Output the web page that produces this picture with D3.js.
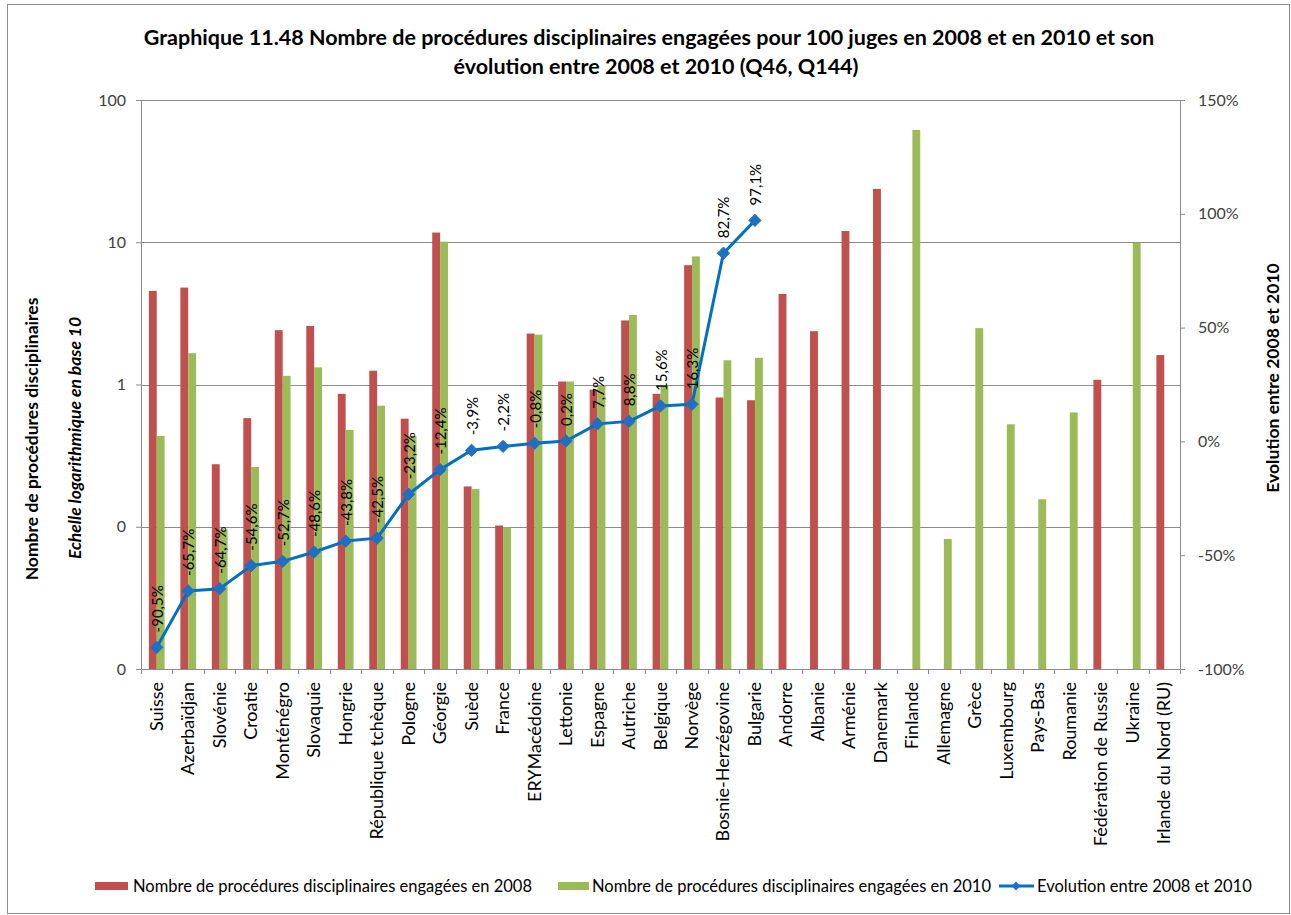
<!DOCTYPE html>
<html lang="fr">
<head>
<meta charset="UTF-8">
<title>Graphique 11.48</title>
<script src="https://d3js.org/d3.v7.min.js"></script>
<style>
    body { margin: 0; background: #fff; }
    text { font-family: Lato, "Open Sans", sans-serif; }
</style>
</head>
<body>
<svg width="1291" height="915"></svg>
<script>
// Categories (countries)
const countries = ["Suisse", "Azerbaïdjan", "Slovénie", "Croatie", "Monténégro", "Slovaquie", "Hongrie",
    "République tchèque", "Pologne", "Géorgie", "Suède", "France", "ERYMacédoine", "Lettonie", "Espagne",
    "Autriche", "Belgique", "Norvège", "Bosnie-Herzégovine", "Bulgarie", "Andorre", "Albanie", "Arménie",
    "Danemark", "Finlande", "Allemagne", "Grèce", "Luxembourg", "Pays-Bas", "Roumanie",
    "Fédération de Russie", "Ukraine", "Irlande du Nord (RU)"];

// Procedures per 100 judges, 2008 (null = no data)
const val2008 = [4.55, 4.8, 0.275, 0.58, 2.41, 2.58, 0.86, 1.25, 0.575, 11.7, 0.192, 0.102, 2.28, 1.05, 0.92,
    2.82, 0.86, 6.9, 0.81, 0.775, 4.33, 2.37, 12.0, 23.7, null, null, null, null, null, null, 1.08, null, 1.61];

// Procedures per 100 judges, 2010
const val2010 = [0.435, 1.66, 0.096, 0.263, 1.15, 1.32, 0.48, 0.71, 0.435, 10.1, 0.184, 0.099, 2.24, 1.05, 0.99,
    3.08, 0.99, 7.95, 1.48, 1.54, null, null, null, null, 61.6, 0.082, 2.49, 0.525, 0.156, 0.636, null, 9.9, null];

// Evolution 2008-2010 in %
const evolution = [-90.5, -65.7, -64.7, -54.6, -52.7, -48.6, -43.8, -42.5, -23.2, -12.4, -3.9, -2.2, -0.8, 0.2,
    7.7, 8.8, 15.6, 16.3, 82.7, 97.1, null, null, null, null, null, null, null, null, null, null, null, null, null];

const leftTicks = [0.01, 0.1, 1, 10, 100];
const rightTicks = [-100, -50, 0, 50, 100, 150];

const svg = d3.select("svg");
const margin = { top: 100, left: 141, right: 111, bottom: 246 };
const W = 1291, H = 915;
const plotW = W - margin.left - margin.right;
const plotH = H - margin.top - margin.bottom;

// chart frame
svg.append("rect").attr("x", 7.5).attr("y", 4.5).attr("width", 1282).attr("height", 909)
    .attr("fill", "none").attr("stroke", "#8c8c8c").attr("stroke-width", 1);

const g = svg.append("g").attr("transform", `translate(${margin.left},${margin.top})`);

const x = d3.scaleBand().domain(countries).range([0, plotW]);
const y = d3.scaleLog().domain([0.01, 100]).range([plotH, 0]);
const y2 = d3.scaleLinear().domain([-100, 150]).range([plotH, 0]);

// gridlines
g.append("g").selectAll("line").data(leftTicks).join("line")
    .attr("x1", 0).attr("x2", plotW)
    .attr("y1", d => Math.round(y(d)) + 0.5).attr("y2", d => Math.round(y(d)) + 0.5)
    .attr("stroke", "#8c8c8c");

// bars
const bw = x.bandwidth() * 0.25;
g.append("g").selectAll("rect").data(countries.map((c, i) => ({ c, v: val2008[i] })).filter(d => d.v != null))
    .join("rect")
    .attr("x", d => x(d.c) + x.bandwidth() / 2 - bw)
    .attr("y", d => y(d.v))
    .attr("width", bw)
    .attr("height", d => plotH - y(d.v))
    .attr("fill", "#C0504D");

g.append("g").selectAll("rect").data(countries.map((c, i) => ({ c, v: val2010[i] })).filter(d => d.v != null))
    .join("rect")
    .attr("x", d => x(d.c) + x.bandwidth() / 2)
    .attr("y", d => y(d.v))
    .attr("width", bw)
    .attr("height", d => plotH - y(d.v))
    .attr("fill", "#9BBB59");

// axes
const leftAxis = g.append("g").call(d3.axisLeft(y).tickValues(leftTicks).tickSize(5).tickPadding(10)
    .tickFormat(d => d >= 1 ? d3.format("d")(d) : "0"));
const rightAxis = g.append("g").attr("transform", `translate(${plotW},0)`)
    .call(d3.axisRight(y2).tickValues(rightTicks).tickSize(5).tickPadding(13).tickFormat(d => d + "%"));
const bottomAxis = g.append("g").attr("transform", `translate(0,${plotH})`)
    .call(d3.axisBottom(x).tickSize(0).tickPadding(0).tickFormat(""));

[leftAxis, rightAxis, bottomAxis].forEach(a => {
    a.select(".domain").attr("stroke", "#8c8c8c");
    a.selectAll(".tick line").attr("stroke", "#8c8c8c");
    a.selectAll(".tick text").attr("font-size", 16).attr("fill", "#404040")
        .style("font-family", "Lato, sans-serif");
});

// bottom tick marks between categories
g.append("g").selectAll("line").data(d3.range(countries.length + 1)).join("line")
    .attr("x1", i => Math.round(i * x.step()) + 0.5).attr("x2", i => Math.round(i * x.step()) + 0.5)
    .attr("y1", plotH).attr("y2", plotH + 5).attr("stroke", "#8c8c8c");

// category labels
g.append("g").selectAll("text").data(countries).join("text")
    .attr("transform", d => `translate(${x(d) + x.bandwidth() / 2 + 6},${plotH + 13}) rotate(-90)`)
    .attr("text-anchor", "end")
    .attr("font-size", 18)
    .attr("fill", "#000")
    .text(d => d);

// evolution line
const pts = countries.map((c, i) => ({ c, v: evolution[i] })).filter(d => d.v != null);
const line = d3.line().x(d => x(d.c) + x.bandwidth() / 2).y(d => y2(d.v));
g.append("path").datum(pts).attr("d", line)
    .attr("fill", "none").attr("stroke", "#0070C0").attr("stroke-width", 3).attr("stroke-linejoin", "round");

const diamond = d3.symbol().type(d3.symbolDiamond2).size(95);
g.append("g").selectAll("path").data(pts).join("path")
    .attr("transform", d => `translate(${x(d.c) + x.bandwidth() / 2},${y2(d.v)})`)
    .attr("d", diamond)
    .attr("fill", "#1F6FC5").attr("stroke", "#1F6FC5");

// data labels
const fmt = v => d3.format(".1f")(v).replace(".", ",").replace("−", "-") + "%";
g.append("g").selectAll("text").data(pts).join("text")
    .attr("transform", d => `translate(${x(d.c) + x.bandwidth() / 2 + 6},${y2(d.v) - 15}) rotate(-90)`)
    .attr("text-anchor", "start")
    .attr("font-size", 15)
    .attr("fill", "#000")
    .text(d => fmt(d.v));

// axis titles
svg.append("text")
    .attr("transform", "translate(38,439) rotate(-90)")
    .attr("text-anchor", "middle").attr("font-size", 17.5).attr("font-weight", "bold")
    .text("Nombre de procédures disciplinaires");
svg.append("text")
    .attr("transform", "translate(81,438) rotate(-90)")
    .attr("text-anchor", "middle").attr("font-size", 17.5).attr("font-weight", "bold").attr("font-style", "italic")
    .text("Echelle logarithmique en base 10");
svg.append("text")
    .attr("transform", "translate(1279,378) rotate(-90)")
    .attr("text-anchor", "middle").attr("font-size", 17.5).attr("font-weight", "bold")
    .text("Evolution entre 2008 et 2010");

// title
const title = svg.append("text").attr("text-anchor", "middle").attr("font-size", 21.5).attr("font-weight", "bold");
title.append("tspan").attr("x", 649).attr("y", 45)
    .text("Graphique  11.48 Nombre de procédures disciplinaires engagées pour 100 juges en 2008 et en 2010 et son");
title.append("tspan").attr("x", 656).attr("y", 74)
    .text("évolution entre 2008 et 2010 (Q46, Q144)");

// legend
const leg = svg.append("g").attr("font-size", 16.5).attr("fill", "#000");
leg.append("rect").attr("x", 95).attr("y", 882).attr("width", 33).attr("height", 8).attr("fill", "#C0504D");
leg.append("text").attr("x", 133).attr("y", 892).text("Nombre de procédures disciplinaires engagées en 2008");
leg.append("rect").attr("x", 558).attr("y", 882).attr("width", 31).attr("height", 8).attr("fill", "#9BBB59");
leg.append("text").attr("x", 592).attr("y", 892).text("Nombre de procédures disciplinaires engagées en 2010");
leg.append("line").attr("x1", 999).attr("x2", 1034).attr("y1", 886).attr("y2", 886)
    .attr("stroke", "#0070C0").attr("stroke-width", 3);
leg.append("path").attr("transform", "translate(1016,886)").attr("d", d3.symbol().type(d3.symbolDiamond2).size(50))
    .attr("fill", "#1F6FC5");
leg.append("text").attr("x", 1037).attr("y", 892).text("Evolution entre 2008 et 2010");
</script>
</body>
</html>
